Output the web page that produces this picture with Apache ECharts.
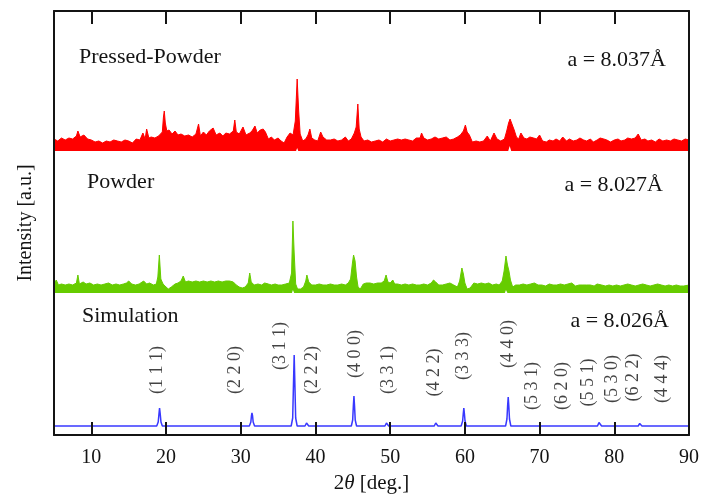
<!DOCTYPE html>
<html>
<head>
<meta charset="utf-8">
<title>XRD patterns</title>
<script src="https://cdn.jsdelivr.net/npm/echarts@6/dist/echarts.min.js"></script>
<style>
  html, body { margin: 0; padding: 0; background: #fff; }
  #chart { width: 701px; height: 495px; }
</style>
</head>
<body>
<div id="chart"></div>
<script>
// 2θ tick values of the shared x axis
const xTicks = [10, 20, 30, 40, 50, 60, 70, 80, 90];

// Pressed powder: upper edge of the noisy trace [2θ, intensity above its baseline]
const pressedTop = [
  [5,12],[5.5,10],[6,13],[6.5,11],[7,13],[7.5,12],[8,15],[8.2,20],[8.5,14],[9,16],[9.5,12],[10,11],
  [10.5,9],[11,10],[11.5,8],[12,10],[12.5,9],[13,11],[13.5,10],[14,9],[14.5,11],[15,10],[15.5,8],
  [16,12],[16.5,11],[16.9,18],[17.2,12],[17.4,22],[17.7,13],[18,14],[18.5,13],[19,15],[19.5,19],
  [19.65,34],[19.76,40],[19.9,28],[20.1,20],[20.4,21],[20.8,17],[21.2,20],[21.6,16],[22,17],[22.5,15],
  [23,16],[23.5,14],[24,17],[24.35,27],[24.6,15],[25,19],[25.4,16],[25.8,20],[26.3,23],[26.7,16],
  [27.2,18],[27.6,15],[28,18],[28.5,17],[29,20],[29.2,31],[29.4,19],[29.8,17],[30.3,24],[30.7,16],
  [31.2,18],[31.5,20],[31.9,25],[32.2,18],[32.6,21],[33,22],[33.3,19],[33.7,12],[34.1,14],[34.5,11],
  [35,13],[35.4,10],[35.8,8],[36.2,14],[36.6,18],[37.0,16],[37.3,30],[37.55,72],[37.75,40],[37.95,17],
  [38.3,10],[38.7,12],[39,16],[39.25,22],[39.5,13],[39.9,11],[40.3,10],[40.7,19],[41,14],[41.5,11],
  [42,11],[42.5,12],[43,10],[43.5,11],[44,14],[44.4,10],[44.8,12],[45.2,18],[45.45,24],[45.67,47],
  [45.85,22],[46.1,14],[46.5,10],[47,11],[47.5,9],[48,10],[48.5,11],[49,9],[49.5,12],[50,10],
  [50.5,11],[51,12],[51.5,11],[52,12],[52.5,11],[53,10],[53.5,13],[54,13],[54.2,18],[54.5,13],
  [55,11],[55.5,12],[56,14],[56.5,12],[57,13],[57.5,14],[58,11],[58.5,12],[59,14],[59.4,16],
  [59.8,20],[60.07,26],[60.3,19],[60.6,16],[61,9],[61.5,10],[62,9],[62.5,10],[63,15],[63.4,10],
  [63.9,18],[64.3,12],[64.8,10],[65.3,12],[65.6,20],[65.85,28],[66.05,32],[66.3,27],[66.6,21],
  [66.9,14],[67.2,12],[67.5,18],[67.9,13],[68.3,12],[68.7,14],[69.2,13],[69.6,12],[70,16],[70.4,10],
  [70.9,9],[71.3,11],[71.8,10],[72.2,12],[72.7,10],[73.1,14],[73.6,10],[74.0,12],[74.5,10],[75,11],
  [75.4,13],[75.9,11],[76.3,10],[76.8,12],[77.2,9],[77.7,11],[78.1,13],[78.6,12],[79,11],[79.5,9],
  [80,11],[80.5,12],[80.9,10],[81.4,11],[81.8,13],[82.3,12],[82.8,13],[83.2,17],[83.6,11],[84.1,12],
  [84.5,10],[85,11],[85.5,9],[86,12],[86.5,10],[87,11],[87.5,10],[88,12],[88.5,11],[89,10],
  [89.5,12],[90,11]
];
// Pressed powder: lower edge of the noisy trace
const pressedLow = [
  [5,0],[19.6,0],[19.76,2],[19.9,0],[37.4,0],[37.55,3],[37.7,0],[45.5,0],[45.67,2],[45.85,0],
  [59.9,0],[60.07,2],[60.2,0],[65.8,0],[66.0,5],[66.2,0],[90,0]
];

// Powder: upper edge of the noisy trace
const powderTop = [
  [5,9],[5.3,13],[5.6,8],[6,9],[6.5,8],[7,9],[7.5,8],[8,10],[8.2,18],[8.4,9],[8.9,11],[9.3,9],
  [9.8,10],[10.3,8],[10.8,9],[11.3,8],[11.8,9],[12.3,10],[12.8,8],[13.3,9],[13.8,8],[14.3,9],
  [14.7,10],[15.0,12],[15.4,9],[15.9,8],[16.4,9],[17.0,12],[17.4,9],[17.8,10],[18.3,8],[18.7,9],
  [18.9,16],[19.1,38],[19.3,14],[19.6,9],[20.0,6],[20.3,4],[20.7,6],[21.2,9],[21.6,10],[22.0,12],
  [22.3,17],[22.6,11],[23.0,12],[23.5,11],[24.0,12],[24.5,11],[25.0,12],[25.5,11],[26.0,12],
  [26.5,11],[27.0,12],[27.5,11],[28.0,12],[28.5,12],[29.0,11],[29.4,8],[29.8,6],[30.2,5],[30.6,6],
  [31.0,10],[31.2,20],[31.4,11],[31.8,8],[32.3,9],[32.8,8],[33.2,10],[33.7,9],[34.1,8],[34.6,9],
  [35.0,8],[35.5,8],[36.0,9],[36.5,10],[36.8,20],[36.98,72],[37.15,40],[37.35,9],[37.6,4],[38.0,4],
  [38.4,6],[38.7,12],[38.85,18],[39.1,11],[39.5,8],[40.0,8],[40.5,9],[41.0,8],[41.5,8],[42.0,9],
  [42.5,8],[43.0,8],[43.5,9],[44.0,8],[44.4,10],[44.7,14],[44.95,30],[45.1,38],[45.3,32],[45.5,16],
  [45.7,6],[46.0,4],[46.4,9],[46.8,10],[47.3,10],[47.8,9],[48.3,10],[48.8,10],[49.2,12],[49.45,18],
  [49.7,11],[50.0,10],[50.35,13],[50.6,9],[51.0,9],[51.5,8],[52.0,9],[52.5,8],[53.0,9],[53.5,8],
  [54.0,8],[54.5,9],[55.0,8],[55.5,10],[55.8,13],[56.1,11],[56.5,8],[57.0,8],[57.5,9],[58.0,10],
  [58.5,8],[59.0,6],[59.3,12],[59.6,25],[59.8,19],[60.0,10],[60.3,4],[60.7,5],[61.2,10],[61.7,9],
  [62.2,10],[62.7,9],[63.2,10],[63.7,8],[64.2,9],[64.6,8],[65.0,12],[65.25,22],[65.5,37],[65.7,28],
  [65.9,22],[66.1,13],[66.4,6],[66.8,8],[67.3,8],[67.8,9],[68.3,8],[68.8,9],[69.3,10],[69.8,8],
  [70.3,8],[70.8,7],[71.3,9],[71.8,8],[72.3,8],[72.8,9],[73.3,8],[73.8,9],[74.3,10],[74.8,7],
  [75.3,8],[75.8,8],[76.3,8],[76.8,8],[77.3,7],[77.7,9],[78.3,8],[78.8,7],[79.3,8],[79.8,7],
  [80.3,8],[80.8,7],[81.3,8],[81.8,9],[82.3,8],[82.8,7],[83.3,8],[83.8,9],[84.3,8],[84.8,7],
  [85.3,8],[85.8,9],[86.3,8],[86.8,7],[87.3,8],[87.8,7],[88.3,8],[88.8,7],[89.3,7],[90,8]
];
// Powder: lower edge of the noisy trace
const powderLow = [
  [5,0],[18.95,0],[19.1,2],[19.25,0],[36.85,0],[36.98,3],[37.15,0],[44.95,0],[45.1,2],[45.3,0],
  [59.45,0],[59.6,2],[59.75,0],[65.35,0],[65.5,3],[65.7,0],[90,0]
];

// Simulated pattern [2θ, intensity]
const simPattern = [
  [5,0],[18.75,0],[18.95,4],[19.05,12],[19.13,18],[19.22,12],[19.32,4],[19.5,0],
  [31.15,0],[31.35,4],[31.43,10],[31.5,13],[31.58,10],[31.66,4],[31.85,0],
  [36.75,0],[36.95,8],[37.05,40],[37.15,71],[37.25,40],[37.35,8],[37.55,0],
  [38.6,0],[38.8,3],[38.9,3],[39.1,0],
  [44.8,0],[44.98,6],[45.07,20],[45.15,30],[45.23,20],[45.32,6],[45.5,0],
  [49.3,0],[49.5,3],[49.6,2],[49.8,0],
  [55.9,0],[56.1,3],[56.2,2],[56.4,0],
  [59.5,0],[59.7,5],[59.78,12],[59.86,18],[59.94,12],[60.02,5],[60.2,0],
  [65.45,0],[65.63,7],[65.72,20],[65.8,29],[65.88,20],[65.97,7],[66.15,0],
  [69.0,0],[69.2,2],[69.4,0],
  [74.55,0],[74.75,1],[74.95,0],
  [77.75,0],[77.95,3.5],[78.1,2.5],[78.3,0],
  [78.95,0],[79.15,2],[79.35,0],
  [83.2,0],[83.4,2.5],[83.55,1.5],[83.7,0],
  [86.45,0],[86.6,1],[86.75,0],[90,0]
];

// Miller indices and where each label sits [2θ, height]
const hklNames = ['(1 1 1)','(2 2 0)','(3 1 1)','(2 2 2)','(4 0 0)','(3 3 1)','(4 2 2)','(3 3 3)',
                  '(4 4 0)','(5 3 1)','(6 2 0)','(5 5 1)','(5 3 0)','(6 2 2)','(4 4 4)'];
const hklAnchor = [[18.82,65],[29.25,65],[35.28,89],[39.52,65],[45.31,81],[49.73,65],[55.88,62.5],
                   [59.76,79],[65.78,91],[68.99,49],[73.0,49],[76.5,52.5],[79.7,56],[82.5,57.5],[86.4,56]];

// Vertical offsets that stack the three patterns
const PRESSED_BASE = 284;
const POWDER_BASE = 142;
const SIM_BASE = 9;

const SERIF = '"Liberation Serif", "Times New Roman", serif';
const INK = '#141414';
const RED = '#ff0000';
const GREEN = '#66cc00';
const BLUE = '#3838ff';

const lift = (pts, base) => pts.map(p => [p[0], base + p[1]]);

function band(top, low, base, color, z) {
  return [
    {
      type: 'line', data: lift(top, base), symbol: 'none', z: z,
      lineStyle: { color: color, width: 1 },
      areaStyle: { color: color, opacity: 1, origin: 'start' },
      animation: false, silent: true
    },
    {
      type: 'line', data: lift(low, base), symbol: 'none', z: z + 1,
      lineStyle: { width: 0, color: '#fff' },
      areaStyle: { color: '#ffffff', opacity: 1, origin: 'start' },
      animation: false, silent: true
    }
  ];
}

const chart = echarts.init(document.getElementById('chart'), null, { renderer: 'canvas' });

function frameLine() {
  return { show: true, onZero: false, lineStyle: { color: INK, width: 2 } };
}

chart.setOption({
  backgroundColor: '#ffffff',
  animation: false,
  grid: { left: 54, right: 12, top: 11, bottom: 60, containLabel: false, outerBoundsMode: 'none' },
  xAxis: [
    {
      type: 'value', min: 5, max: 90, position: 'bottom', z: 10,
      name: '{n|2}{t|θ}{n| [deg.]}', nameLocation: 'middle', nameGap: 37,
      nameTextStyle: {
        rich: {
          n: { fontFamily: SERIF, fontSize: 21, color: INK },
          t: { fontFamily: SERIF, fontSize: 21, fontStyle: 'italic', color: INK }
        }
      },
      axisLine: frameLine(),
      axisTick: { show: true, inside: true, length: 13, customValues: xTicks,
                  lineStyle: { color: INK, width: 2 } },
      axisLabel: { show: true, customValues: xTicks, margin: 13,
                   fontFamily: SERIF, fontSize: 20, color: INK },
      splitLine: { show: false }
    },
    {
      type: 'value', min: 5, max: 90, position: 'top', z: 10,
      axisLine: frameLine(),
      axisTick: { show: true, inside: true, length: 13, customValues: xTicks,
                  lineStyle: { color: INK, width: 2 } },
      axisLabel: { show: false },
      splitLine: { show: false }
    }
  ],
  yAxis: [
    {
      type: 'value', min: 0, max: 424, position: 'left', z: 10,
      name: 'Intensity [a.u.]', nameLocation: 'middle', nameGap: 18,
      nameTextStyle: { fontFamily: SERIF, fontSize: 20, color: INK },
      axisLine: frameLine(),
      axisTick: { show: false }, axisLabel: { show: false }, splitLine: { show: false }
    },
    {
      type: 'value', min: 0, max: 424, position: 'right', z: 10,
      axisLine: frameLine(),
      axisTick: { show: false }, axisLabel: { show: false }, splitLine: { show: false }
    }
  ],
  series: [
    ...band(pressedTop, pressedLow, PRESSED_BASE, RED, 2),
    ...band(powderTop, powderLow, POWDER_BASE, GREEN, 4),
    {
      type: 'line', data: lift(simPattern, SIM_BASE), symbol: 'none', z: 6,
      lineStyle: { color: BLUE, width: 1.5 }, silent: true
    },
    {
      type: 'scatter', z: 8, symbolSize: 1, silent: true,
      itemStyle: { color: 'rgba(0,0,0,0)' },
      data: hklNames.map((n, i) => ({ name: n, value: hklAnchor[i] })),
      label: {
        show: true, position: 'inside', rotate: 90,
        formatter: p => p.name,
        fontFamily: SERIF, fontSize: 18, color: INK
      }
    }
  ],
  graphic: [
    { type: 'text', x: 79, y: 57, z: 20,
      style: { text: 'Pressed-Powder', fontFamily: SERIF, fontSize: 22, fill: INK, verticalAlign: 'middle' } },
    { type: 'text', x: 666, y: 60, z: 20,
      style: { text: 'a = 8.037Å', fontFamily: SERIF, fontSize: 22, fill: INK, align: 'right', verticalAlign: 'middle' } },
    { type: 'text', x: 87, y: 182, z: 20,
      style: { text: 'Powder', fontFamily: SERIF, fontSize: 22, fill: INK, verticalAlign: 'middle' } },
    { type: 'text', x: 663, y: 185, z: 20,
      style: { text: 'a = 8.027Å', fontFamily: SERIF, fontSize: 22, fill: INK, align: 'right', verticalAlign: 'middle' } },
    { type: 'text', x: 82, y: 316, z: 20,
      style: { text: 'Simulation', fontFamily: SERIF, fontSize: 22, fill: INK, verticalAlign: 'middle' } },
    { type: 'text', x: 669, y: 321, z: 20,
      style: { text: 'a = 8.026Å', fontFamily: SERIF, fontSize: 22, fill: INK, align: 'right', verticalAlign: 'middle' } }
  ]
});
</script>
</body>
</html>
